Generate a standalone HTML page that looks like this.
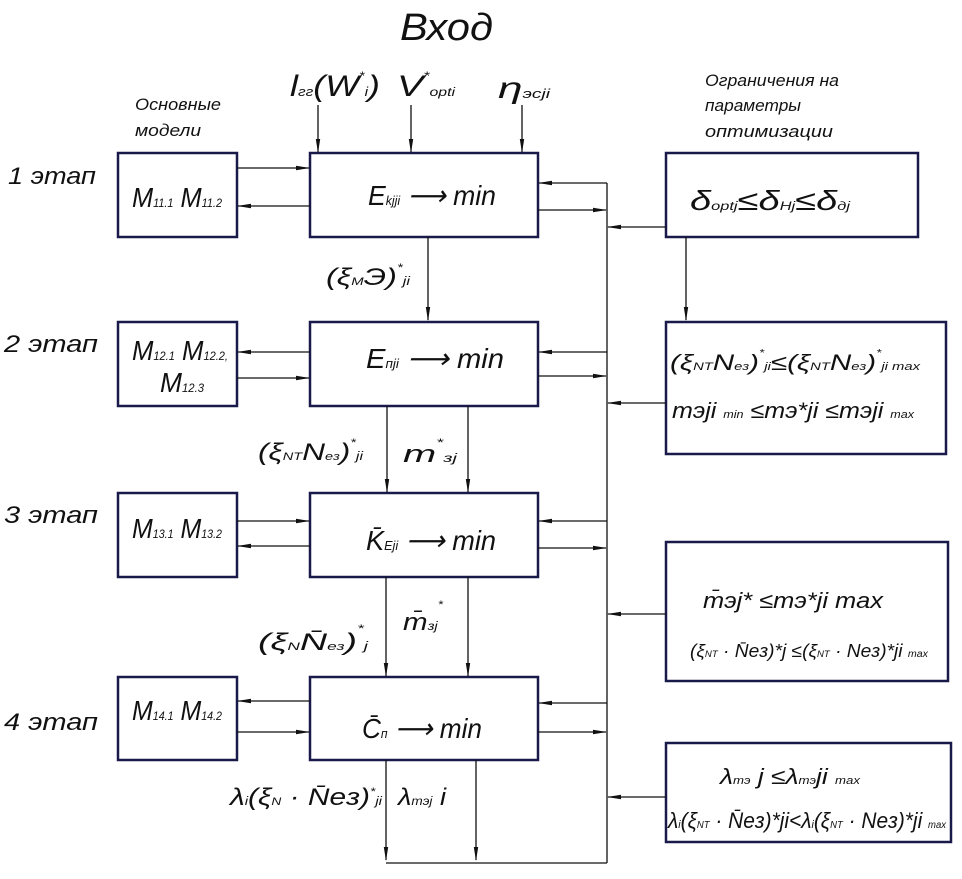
<!DOCTYPE html>
<html><head><meta charset="utf-8"><style>
html,body{margin:0;padding:0;background:#fff;}
svg{display:block}
text{font-family:"Liberation Sans",sans-serif;font-style:italic;fill:#111;}
</style></head><body>
<svg width="962" height="879" viewBox="0 0 962 879" xmlns="http://www.w3.org/2000/svg">
<defs>
<marker id="a" markerWidth="14" markerHeight="6" refX="13" refY="3" orient="auto" markerUnits="userSpaceOnUse">
<path d="M0,0.8 L14,3 L0,5.2 Z" fill="#111"/></marker>
</defs>
<g fill="none" stroke="#1a1a4a" stroke-width="2.5">
<rect x="118" y="153" width="119" height="84"/>
<rect x="310" y="153" width="228" height="84"/>
<rect x="666" y="153" width="252" height="84"/>
<rect x="118" y="322" width="119" height="84"/>
<rect x="310" y="322" width="228" height="84"/>
<rect x="666" y="322" width="280" height="132"/>
<rect x="118" y="493" width="119" height="84"/>
<rect x="310" y="493" width="228" height="84"/>
<rect x="666" y="542" width="282" height="139"/>
<rect x="118" y="677" width="119" height="83"/>
<rect x="310" y="677" width="228" height="83"/>
<rect x="666" y="743" width="285" height="99"/>
</g>
<g stroke="#111" stroke-width="1.3" fill="none" marker-end="url(#a)">
<line x1="318" y1="105" x2="318" y2="152"/>
<line x1="411" y1="105" x2="411" y2="152"/>
<line x1="522" y1="105" x2="522" y2="152"/>
<line x1="237" y1="168" x2="309" y2="168"/>
<line x1="310" y1="206" x2="238" y2="206"/>
<line x1="607" y1="183" x2="539" y2="183"/>
<line x1="538" y1="210" x2="606" y2="210"/>
<line x1="666" y1="227" x2="608" y2="227"/>
<line x1="686" y1="237" x2="686" y2="320"/>
<line x1="428" y1="237" x2="428" y2="320"/>
<line x1="310" y1="352" x2="238" y2="352"/>
<line x1="237" y1="378" x2="309" y2="378"/>
<line x1="607" y1="352" x2="539" y2="352"/>
<line x1="538" y1="376" x2="606" y2="376"/>
<line x1="666" y1="403" x2="608" y2="403"/>
<line x1="387" y1="406" x2="387" y2="492"/>
<line x1="468" y1="406" x2="468" y2="492"/>
<line x1="237" y1="521" x2="309" y2="521"/>
<line x1="310" y1="546" x2="238" y2="546"/>
<line x1="607" y1="521" x2="539" y2="521"/>
<line x1="538" y1="548" x2="606" y2="548"/>
<line x1="666" y1="614" x2="608" y2="614"/>
<line x1="386" y1="577" x2="386" y2="676"/>
<line x1="468" y1="577" x2="468" y2="676"/>
<line x1="310" y1="701" x2="238" y2="701"/>
<line x1="237" y1="732" x2="309" y2="732"/>
<line x1="607" y1="703" x2="539" y2="703"/>
<line x1="538" y1="732" x2="606" y2="732"/>
<line x1="666" y1="797" x2="608" y2="797"/>
<line x1="386" y1="760" x2="386" y2="860"/>
<line x1="476" y1="760" x2="476" y2="860"/>
</g>
<g stroke="#111" stroke-width="1.3" fill="none">
<line x1="607" y1="183" x2="607" y2="863"/>
<line x1="386" y1="863" x2="607" y2="863"/>
</g>
<text x="400" y="40" font-size="38" textLength="93" lengthAdjust="spacingAndGlyphs">Вход</text>
<text x="135" y="110" font-size="17" textLength="86" lengthAdjust="spacingAndGlyphs">Основные</text>
<text x="135" y="136" font-size="17" textLength="66" lengthAdjust="spacingAndGlyphs">модели</text>
<text x="705" y="86" font-size="17" textLength="134" lengthAdjust="spacingAndGlyphs">Ограничения на</text>
<text x="705" y="111" font-size="17" textLength="96" lengthAdjust="spacingAndGlyphs">параметры</text>
<text x="705" y="137" font-size="17" textLength="128" lengthAdjust="spacingAndGlyphs">оптимизации</text>
<text x="290" y="96" font-size="30" textLength="90" lengthAdjust="spacingAndGlyphs">l<tspan font-size="13">гг</tspan>(W<tspan font-size="12" dy="-16">*</tspan><tspan font-size="13" dy="16">i</tspan>)</text>
<text x="397" y="96" font-size="30" textLength="58" lengthAdjust="spacingAndGlyphs">V<tspan font-size="12" dy="-16">*</tspan><tspan font-size="12" dy="16">opti</tspan></text>
<text x="498" y="98" font-size="30" textLength="52" lengthAdjust="spacingAndGlyphs">η<tspan font-size="13">эсji</tspan></text>
<g font-size="24">
<text x="8" y="184" textLength="88" lengthAdjust="spacingAndGlyphs">1 этап</text>
<text x="4" y="352" textLength="94" lengthAdjust="spacingAndGlyphs">2 этап</text>
<text x="4" y="523" textLength="94" lengthAdjust="spacingAndGlyphs">3 этап</text>
<text x="4" y="730" textLength="94" lengthAdjust="spacingAndGlyphs">4 этап</text>
</g>
<g font-size="28">
<text x="132" y="207" textLength="90" lengthAdjust="spacingAndGlyphs">M<tspan font-size="12">11.1</tspan> M<tspan font-size="12">11.2</tspan></text>
<text x="132" y="360" textLength="96" lengthAdjust="spacingAndGlyphs">M<tspan font-size="12">12.1</tspan> M<tspan font-size="12">12.2,</tspan></text>
<text x="160" y="392" textLength="44" lengthAdjust="spacingAndGlyphs">M<tspan font-size="12">12.3</tspan></text>
<text x="132" y="538" textLength="90" lengthAdjust="spacingAndGlyphs">M<tspan font-size="12">13.1</tspan> M<tspan font-size="12">13.2</tspan></text>
<text x="132" y="720" textLength="90" lengthAdjust="spacingAndGlyphs">M<tspan font-size="12">14.1</tspan> M<tspan font-size="12">14.2</tspan></text>
</g>
<g font-size="28">
<text x="368" y="205" textLength="128" lengthAdjust="spacingAndGlyphs">E<tspan font-size="13">kjji</tspan> ⟶ min</text>
<text x="366" y="368" textLength="138" lengthAdjust="spacingAndGlyphs">E<tspan font-size="13">пji</tspan> ⟶ min</text>
<text x="366" y="550" textLength="130" lengthAdjust="spacingAndGlyphs">K̄<tspan font-size="13">Eji</tspan> ⟶ min</text>
<text x="362" y="738" textLength="120" lengthAdjust="spacingAndGlyphs">C̄<tspan font-size="13">п</tspan> ⟶ min</text>
<text x="690" y="210" textLength="160" lengthAdjust="spacingAndGlyphs">δ<tspan font-size="12">optj</tspan>≤δ<tspan font-size="12">Hj</tspan>≤δ<tspan font-size="12">дj</tspan></text>
</g>
<g font-size="24">
<text x="326" y="285" textLength="84" lengthAdjust="spacingAndGlyphs">(ξ<tspan font-size="11">M</tspan>Э)<tspan font-size="11" dy="-14">*</tspan><tspan font-size="12" dy="14">ji</tspan></text>
<text x="258" y="460" textLength="105" lengthAdjust="spacingAndGlyphs">(ξ<tspan font-size="11">NT</tspan>N<tspan font-size="11">ез</tspan>)<tspan font-size="11" dy="-14">*</tspan><tspan font-size="12" dy="14">ji</tspan></text>
<text x="403" y="462" textLength="54" lengthAdjust="spacingAndGlyphs">m<tspan font-size="11" dy="-16">*</tspan><tspan font-size="12" dy="16">зj</tspan></text>
<text x="258" y="650" textLength="110" lengthAdjust="spacingAndGlyphs">(ξ<tspan font-size="11">N</tspan>N̄<tspan font-size="11">ез</tspan>)<tspan font-size="11" dy="-18">*</tspan><tspan font-size="12" dy="18">j</tspan></text>
<text x="403" y="630" textLength="40" lengthAdjust="spacingAndGlyphs">m̄<tspan font-size="12">зj</tspan><tspan font-size="11" dy="-22">*</tspan></text>
<text x="230" y="805" textLength="152" lengthAdjust="spacingAndGlyphs">λ<tspan font-size="12">i</tspan>(ξ<tspan font-size="11">N</tspan> · N̄eз)<tspan font-size="11" dy="-10">*</tspan><tspan font-size="12" dy="10">ji</tspan></text>
<text x="398" y="805" textLength="48" lengthAdjust="spacingAndGlyphs">λ<tspan font-size="12">mэj</tspan> i</text>
</g>
<g font-size="22">
<text x="670" y="370" textLength="250" lengthAdjust="spacingAndGlyphs">(ξ<tspan font-size="11">NT</tspan>N<tspan font-size="11">ез</tspan>)<tspan font-size="10" dy="-14">*</tspan><tspan font-size="11" dy="14">ji</tspan>≤(ξ<tspan font-size="11">NT</tspan>N<tspan font-size="11">ез</tspan>)<tspan font-size="10" dy="-14">*</tspan><tspan font-size="11" dy="14">ji max</tspan></text>
<text x="672" y="418" textLength="242" lengthAdjust="spacingAndGlyphs">mэji <tspan font-size="11">min</tspan> ≤mэ*ji ≤mэji <tspan font-size="11">max</tspan></text>
<text x="703" y="608" textLength="180" lengthAdjust="spacingAndGlyphs">m̄эj* ≤mэ*ji max</text>
<text x="690" y="657" textLength="238" lengthAdjust="spacingAndGlyphs" font-size="18">(ξ<tspan font-size="9">NT</tspan> · N̄eз)*j ≤(ξ<tspan font-size="9">NT</tspan> · Neз)*ji <tspan font-size="10">max</tspan></text>
<text x="720" y="784" textLength="140" lengthAdjust="spacingAndGlyphs">λ<tspan font-size="11">mэ</tspan> j ≤λ<tspan font-size="11">mэ</tspan>ji <tspan font-size="11">max</tspan></text>
<text x="668" y="828" textLength="278" lengthAdjust="spacingAndGlyphs">λ<tspan font-size="11">i</tspan>(ξ<tspan font-size="10">NT</tspan> · N̄eз)*ji&lt;λ<tspan font-size="11">i</tspan>(ξ<tspan font-size="10">NT</tspan> · Neз)*ji <tspan font-size="10">max</tspan></text>
</g>
</svg>
</body></html>
